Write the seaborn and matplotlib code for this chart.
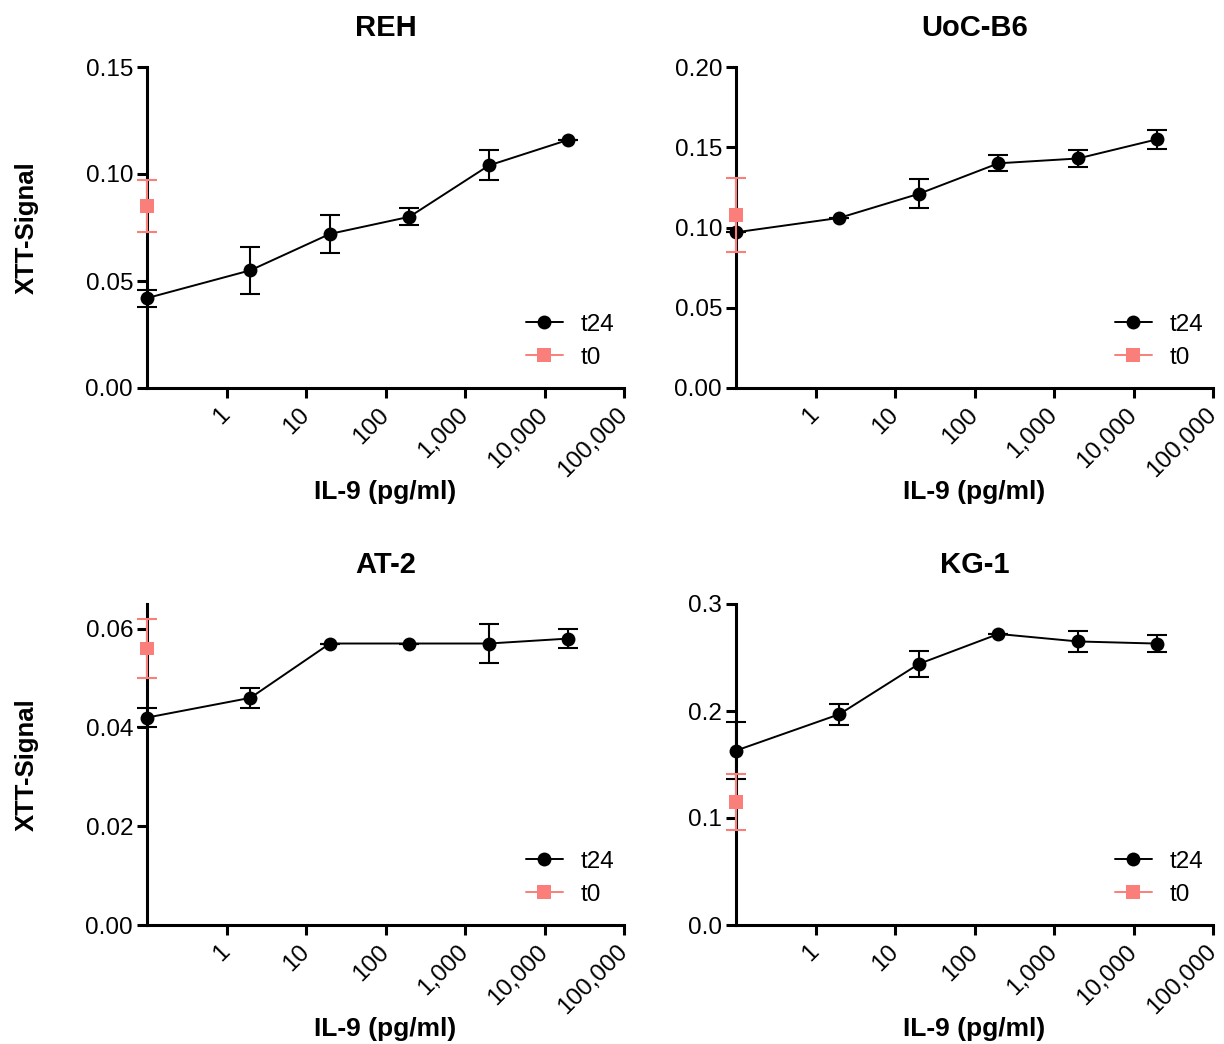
import numpy as np
import matplotlib
matplotlib.use("Agg")
import matplotlib.pyplot as plt
from matplotlib.lines import Line2D
from matplotlib.ticker import FixedLocator, FixedFormatter, NullLocator
import seaborn as sns

# ---------------- data ----------------
conc_pg_ml = [0, 2, 20, 200, 2000, 20000]  # 0 is drawn at the axis start
x_tick_values = [1, 10, 100, 1000, 10000, 100000]
x_tick_labels = ["1", "10", "100", "1,000", "10,000", "100,000"]

panels = ["REH", "UoC-B6", "AT-2", "KG-1"]

reh_t24 = [0.042, 0.055, 0.072, 0.080, 0.104, 0.116]
reh_t24_err = [0.004, 0.011, 0.009, 0.004, 0.007, 0.0]
reh_t0 = 0.085
reh_t0_err = 0.012

uoc_t24 = [0.097, 0.106, 0.121, 0.140, 0.143, 0.155]
uoc_t24_err = [0.0, 0.0, 0.009, 0.005, 0.005, 0.006]
uoc_t0 = 0.108
uoc_t0_err = 0.023

at2_t24 = [0.042, 0.046, 0.057, 0.057, 0.057, 0.058]
at2_t24_err = [0.002, 0.002, 0.0, 0.0, 0.004, 0.002]
at2_t0 = 0.056
at2_t0_err = 0.006

kg1_t24 = [0.163, 0.197, 0.244, 0.272, 0.265, 0.263]
kg1_t24_err = [0.027, 0.010, 0.012, 0.0, 0.010, 0.008]
kg1_t0 = 0.115
kg1_t0_err = 0.026

y_limits = [(0, 0.15), (0, 0.20), (0, 0.065), (0, 0.30)]
y_ticks = [[0, 0.05, 0.10, 0.15], [0, 0.05, 0.10, 0.15, 0.20],
           [0, 0.02, 0.04, 0.06], [0, 0.1, 0.2, 0.3]]
y_fmt = ["{:.2f}", "{:.2f}", "{:.2f}", "{:.1f}"]

series = [
    (reh_t24, reh_t24_err, reh_t0, reh_t0_err),
    (uoc_t24, uoc_t24_err, uoc_t0, uoc_t0_err),
    (at2_t24, at2_t24_err, at2_t0, at2_t0_err),
    (kg1_t24, kg1_t24_err, kg1_t0, kg1_t0_err),
]

# ---------------- style ----------------
sns.set_theme(style="ticks")
plt.rcParams["font.family"] = ["Liberation Sans", "DejaVu Sans"]
plt.rcParams["text.color"] = "black"
plt.rcParams["axes.labelcolor"] = "black"
plt.rcParams["axes.titlecolor"] = "black"
plt.rcParams["axes.linewidth"] = 2.2
plt.rcParams["xtick.major.width"] = 2.2
plt.rcParams["ytick.major.width"] = 2.2
plt.rcParams["xtick.major.size"] = 7
plt.rcParams["ytick.major.size"] = 7
plt.rcParams["xtick.major.pad"] = 10
plt.rcParams["ytick.major.pad"] = 3
plt.rcParams["xtick.labelsize"] = 17.5
plt.rcParams["ytick.labelsize"] = 17.5
plt.rcParams["xtick.color"] = "black"
plt.rcParams["ytick.color"] = "black"
plt.rcParams["axes.edgecolor"] = "black"

PINK = "#FA7F7A"
X_MIN, X_MAX = 0.1, 100000

W, H = 1224, 1044
fig = plt.figure(figsize=(W / 100, H / 100), dpi=100)

boxes_px = [(147, 67), (736, 67), (147, 604), (736, 604)]  # (left, top)
ax_w_px, ax_h_px = 477, 321

for i, name in enumerate(panels):
    left, top = boxes_px[i]
    ax = fig.add_axes([left / W, 1 - (top + ax_h_px) / H, ax_w_px / W, ax_h_px / H])
    t24, t24_err, t0, t0_err = series[i]
    xs = [max(c, X_MIN) for c in conc_pg_ml]

    sns.lineplot(x=xs, y=t24, ax=ax, color="black", linewidth=1.4,
                 marker="o", markersize=10, markeredgewidth=0,
                 clip_on=False, zorder=5, legend=False, errorbar=None)
    ax.errorbar(xs, t24, yerr=t24_err, fmt="none", ecolor="black",
                elinewidth=1.5, capsize=7, capthick=1.5, clip_on=False, zorder=4)
    ax.errorbar([xs[0]], [t0], yerr=[t0_err], fmt="none", ecolor=PINK,
                elinewidth=1.5, capsize=7, capthick=1.5, clip_on=False, zorder=6)
    sns.scatterplot(x=[xs[0]], y=[t0], ax=ax, marker="s", s=100, color=PINK,
                    edgecolor="none", linewidth=0, clip_on=False, zorder=7, legend=False)

    ax.set_xscale("log")
    ax.set_xlim(X_MIN, X_MAX)
    ax.xaxis.set_major_locator(FixedLocator(x_tick_values))
    ax.xaxis.set_major_formatter(FixedFormatter(x_tick_labels))
    ax.xaxis.set_minor_locator(NullLocator())
    for lab in ax.get_xticklabels():
        lab.set_rotation(45)
        lab.set_ha("right")
        lab.set_va("center")
        lab.set_rotation_mode("anchor")

    ax.set_ylim(*y_limits[i])
    ax.set_yticks(y_ticks[i])
    ax.set_yticklabels([y_fmt[i].format(v) for v in y_ticks[i]])

    sns.despine(ax=ax)
    ax.set_xlabel("")
    ax.set_ylabel("")
    ax.set_title(name, fontsize=21, fontweight="bold", pad=22)

    # axis labels
    fig.text((left + ax_w_px / 2) / W, 1 - (top + 425) / H, "IL-9 (pg/ml)",
             ha="center", va="center", fontsize=19, fontweight="bold")
    if i % 2 == 0:
        fig.text(27 / W, 1 - (top + ax_h_px / 2) / H, "XTT-Signal", rotation=90,
                 ha="center", va="center", fontsize=18.5, fontweight="bold")

    handles = [
        Line2D([], [], color="black", linewidth=1.4, marker="o", markersize=10,
               markeredgewidth=0),
        Line2D([], [], color=PINK, linewidth=1.4, marker="s", markersize=10,
               markeredgewidth=0),
    ]
    ax.legend(handles, ["t24", "t0"], loc="center left",
              bbox_to_anchor=(0.795, 0.145), frameon=False, fontsize=17.5,
              handlelength=1.5, handletextpad=0.75, labelspacing=0.45,
              borderpad=0, borderaxespad=0)

fig.savefig("out.png", dpi=100)
